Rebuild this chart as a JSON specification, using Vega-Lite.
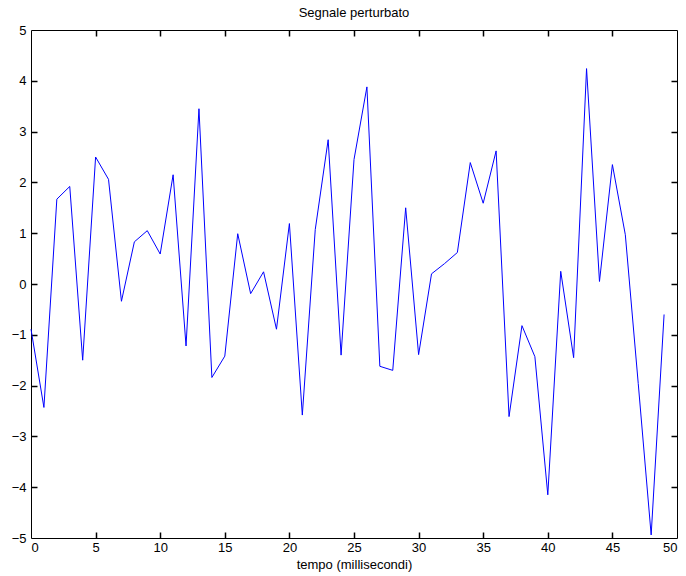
{
  "$schema": "https://vega.github.io/schema/vega-lite/v6.json",
  "width": 646,
  "height": 508,
  "autosize": {"type": "none"},
  "padding": {"left": 31, "top": 30, "right": 9, "bottom": 38},
  "background": "white",
  "title": {"text": "Segnale perturbato", "font": "Liberation Sans", "fontSize": 13, "fontWeight": "normal", "color": "black", "anchor": "middle", "offset": 4},
  "config": {
    "view": {"stroke": null},
    "axis": {"labelFont": "Liberation Sans", "labelFontSize": 13, "labelColor": "black", "titleFont": "Liberation Sans", "titleFontSize": 13, "titleFontWeight": "normal", "titleColor": "black", "domainColor": "black", "domainWidth": 1, "grid": false}
  },
  "data": {"values": [
    {"t": 0, "v": -0.89}, {"t": 1, "v": -2.43}, {"t": 2, "v": 1.67}, {"t": 3, "v": 1.92},
    {"t": 4, "v": -1.5}, {"t": 5, "v": 2.5}, {"t": 6, "v": 2.06}, {"t": 7, "v": -0.34},
    {"t": 8, "v": 0.83}, {"t": 9, "v": 1.05}, {"t": 10, "v": 0.59}, {"t": 11, "v": 2.15},
    {"t": 12, "v": -1.22}, {"t": 13, "v": 3.45}, {"t": 14, "v": -1.84}, {"t": 15, "v": -1.42},
    {"t": 16, "v": 0.99}, {"t": 17, "v": -0.19}, {"t": 18, "v": 0.24}, {"t": 19, "v": -0.89},
    {"t": 20, "v": 1.19}, {"t": 21, "v": -2.58}, {"t": 22, "v": 1.07}, {"t": 23, "v": 2.84},
    {"t": 24, "v": -1.4}, {"t": 25, "v": 2.45}, {"t": 26, "v": 3.88}, {"t": 27, "v": -1.62},
    {"t": 28, "v": -1.7}, {"t": 29, "v": 1.5}, {"t": 30, "v": -1.39}, {"t": 31, "v": 0.2},
    {"t": 32, "v": 0.4}, {"t": 33, "v": 0.62}, {"t": 34, "v": 2.39}, {"t": 35, "v": 1.59},
    {"t": 36, "v": 2.62}, {"t": 37, "v": -2.61}, {"t": 38, "v": -0.82}, {"t": 39, "v": -1.43},
    {"t": 40, "v": -4.15}, {"t": 41, "v": 0.25}, {"t": 42, "v": -1.45}, {"t": 43, "v": 4.24},
    {"t": 44, "v": 0.05}, {"t": 45, "v": 2.35}, {"t": 46, "v": 0.97}, {"t": 47, "v": -1.96},
    {"t": 48, "v": -4.94}, {"t": 49, "v": -0.6}
  ]},
  "layer": [
    {
      "mark": {"type": "line", "color": "#0000FF", "strokeWidth": 1},
      "encoding": {
        "x": {"field": "t", "type": "quantitative", "scale": {"domain": [0, 50], "nice": false, "zero": false},
              "axis": {"orient": "bottom", "values": [0,5,10,15,20,25,30,35,40,45,50], "title": "tempo (millisecondi)", "ticks": false, "labelPadding": 3, "titlePadding": 4}},
        "y": {"field": "v", "type": "quantitative", "scale": {"domain": [-5, 5], "nice": false, "zero": false},
              "axis": {"orient": "left", "values": [-5,-4,-3,-2,-1,0,1,2,3,4,5], "title": null, "ticks": false, "labelPadding": 5}}
      }
    },
    {
      "mark": {"type": "line", "opacity": 0},
      "encoding": {
        "x": {"field": "t", "type": "quantitative", "scale": {"domain": [0, 50], "nice": false, "zero": false},
              "axis": {"orient": "top", "offset": -508, "values": [5,10,15,20,25,30,35,40,45], "labels": false, "domain": false, "title": null, "ticks": true, "tickColor": "black", "tickWidth": 1.5, "tickSize": 6}},
        "y": {"field": "v", "type": "quantitative", "scale": {"domain": [-5, 5], "nice": false, "zero": false},
              "axis": {"orient": "right", "offset": -646, "values": [-4,-3,-2,-1,0,1,2,3,4], "labels": false, "domain": false, "title": null, "ticks": true, "tickColor": "black", "tickWidth": 1.5, "tickSize": 6}}
      }
    },
    {
      "mark": {"type": "line", "opacity": 0},
      "encoding": {
        "x": {"field": "t", "type": "quantitative", "scale": {"domain": [0, 50], "nice": false, "zero": false},
              "axis": {"orient": "bottom", "offset": -508, "values": [5,10,15,20,25,30,35,40,45], "labels": false, "domain": true, "title": null, "ticks": true, "tickColor": "black", "tickWidth": 1.5, "tickSize": 6}},
        "y": {"field": "v", "type": "quantitative", "scale": {"domain": [-5, 5], "nice": false, "zero": false},
              "axis": {"orient": "left", "offset": -646, "values": [-4,-3,-2,-1,0,1,2,3,4], "labels": false, "domain": true, "title": null, "ticks": true, "tickColor": "black", "tickWidth": 1.5, "tickSize": 6}}
      }
    }
  ],
  "resolve": {"axis": {"x": "independent", "y": "independent"}}
}
